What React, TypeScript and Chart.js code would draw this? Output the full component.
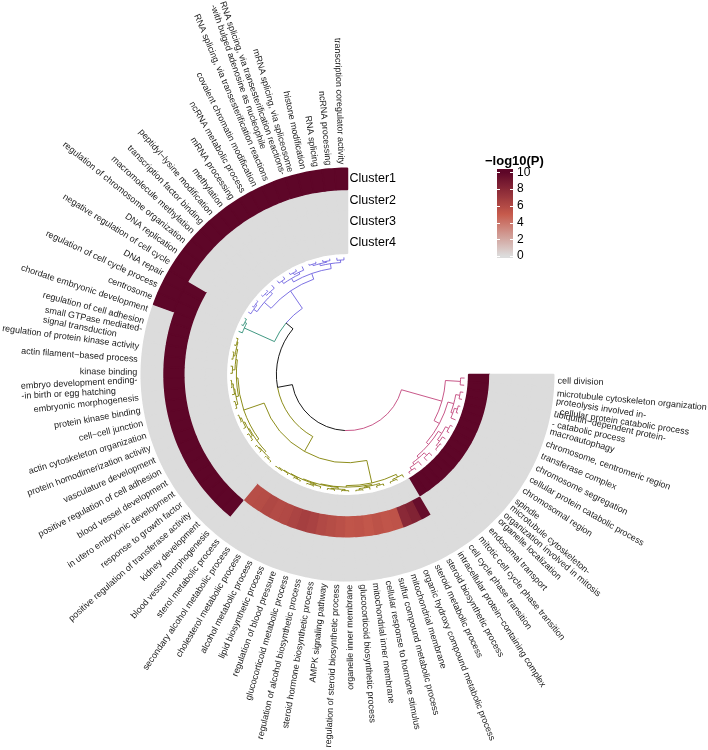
import React, { useEffect, useRef } from "react";
import { Chart, registerables } from "chart.js";

Chart.register(...registerables);

// ---------- data ----------
const terms: string[] = [
  "cell division",
  "microtubule cytoskeleton organization",
  "proteolysis involved in-\n- cellular protein catabolic process",
  "ubiquitin\u2212dependent protein-\n- catabolic process",
  "macroautophagy",
  "chromosome, centromeric region",
  "transferase complex",
  "chromosome segregation",
  "cellular protein catabolic process",
  "chromosomal region",
  "spindle",
  "microtubule cytoskeleton-\norganization involved in mitosis",
  "organelle localization",
  "endosomal transport",
  "mitotic cell cycle phase transition",
  "cell cycle phase transition",
  "intracellular protein\u2212containing complex",
  "steroid biosynthetic process",
  "steroid metabolic process",
  "organic hydroxy compound metabolic process",
  "mitochondrial membrane",
  "sulfur compound metabolic process",
  "cellular response to hormone stimulus",
  "mitochondrial inner membrane",
  "glucocorticoid biosynthetic process",
  "organelle inner membrane",
  "regulation of steroid biosynthetic process",
  "AMPK signaling pathway",
  "steroid hormone biosynthetic process",
  "regulation of alcohol biosynthetic process",
  "glucocorticoid metabolic process",
  "regulation of blood pressure",
  "lipid biosynthetic process",
  "alcohol metabolic process",
  "cholesterol metabolic process",
  "secondary alcohol metabolic process",
  "sterol metabolic process",
  "blood vessel morphogenesis",
  "kidney development",
  "positive regulation of transferase activity",
  "response to growth factor",
  "in utero embryonic development",
  "blood vessel development",
  "positive regulation of cell adhesion",
  "vasculature development",
  "protein homodimerization activity",
  "actin cytoskeleton organization",
  "cell\u2212cell junction",
  "protein kinase binding",
  "embryonic morphogenesis",
  "embryo development ending-\n-in birth or egg hatching",
  "kinase binding",
  "actin filament\u2212based process",
  "regulation of protein kinase activity",
  "small GTPase mediated-\nsignal transduction",
  "regulation of cell adhesion",
  "chordate embryonic development",
  "centrosome",
  "regulation of cell cycle process",
  "DNA repair",
  "negative regulation of cell cycle",
  "DNA replication",
  "regulation of chromosome organization",
  "macromolecule methylation",
  "transcription factor binding",
  "peptidyl\u2212lysine modification",
  "methylation",
  "mRNA processing",
  "ncRNA metabolic process",
  "covalent chromatin modification",
  "RNA splicing, via transesterification reactions",
  "RNA splicing, via transesterification reactions-\n-with bulged adenosine as nucleophile",
  "mRNA splicing, via spliceosome",
  "histone modification",
  "RNA splicing",
  "ncRNA processing",
  "transcription coregulator activity",
];

const clusterNames = ["Cluster1", "Cluster2", "Cluster3", "Cluster4"];

const cluster1Values = [
  0, 0, 0, 0, 0, 0, 0, 0, 0, 0,
  0, 0, 0, 0, 0, 0, 0, 0, 0, 0,
  0, 0, 0, 0, 0, 0, 0, 0, 0, 0,
  0, 0, 0, 0, 0, 0, 0, 0, 0, 0,
  0, 0, 0, 0, 0, 0, 0, 0, 0, 0,
  0, 0, 0, 0, 0, 0, 0, 10, 10, 10,
  10, 10, 10, 10, 10, 10, 10, 10, 10, 10,
  10, 10, 10, 10, 10, 10, 10,
];
const cluster2Values = [
  0, 0, 0, 0, 0, 0, 0, 0, 0, 0,
  0, 0, 0, 0, 0, 0, 0, 0, 0, 0,
  0, 0, 0, 0, 0, 0, 0, 0, 0, 0,
  0, 0, 0, 0, 0, 0, 0, 10, 10, 10,
  10, 10, 10, 10, 10, 10, 10, 10, 10, 10,
  10, 10, 10, 10, 10, 10, 10, 10, 10, 10,
  0, 0, 0, 0, 0, 0, 0, 0, 0, 0,
  0, 0, 0, 0, 0, 0, 0,
];
const cluster3Values = [
  0, 0, 0, 0, 0, 0, 0, 0, 0, 0,
  0, 0, 0, 0, 0, 0, 0, 9.6, 8.3, 7.9,
  5.4, 5.3, 5.5, 5.2, 5.4, 5.3, 5.6, 5.8, 6.0, 6.4,
  6.6, 6.3, 6.0, 5.9, 6.1, 5.8, 5.7, 0, 0, 0,
  0, 0, 0, 0, 0, 0, 0, 0, 0, 0,
  0, 0, 0, 0, 0, 0, 0, 0, 0, 0,
  0, 0, 0, 0, 0, 0, 0, 0, 0, 0,
  0, 0, 0, 0, 0, 0, 0,
];
const cluster4Values = [
  10, 10, 10, 10, 10, 10, 10, 10, 10, 10,
  10, 10, 10, 10, 10, 10, 10, 0, 0, 0,
  0, 0, 0, 0, 0, 0, 0, 0, 0, 0,
  0, 0, 0, 0, 0, 0, 0, 0, 0, 0,
  0, 0, 0, 0, 0, 0, 0, 0, 0, 0,
  0, 0, 0, 0, 0, 0, 0, 0, 0, 0,
  0, 0, 0, 0, 0, 0, 0, 0, 0, 0,
  0, 0, 0, 0, 0, 0, 0,
];

const legendTitle = "\u2212log10(P)";
const legendTicks = [0, 2, 4, 6, 8, 10];

// dendrogram: [height, left, right], leaves are 1-based term indices
const pinkTree: any = [19, [4, 1, 2], [13, [7, [3, 3, 4], [5, [2, 5, 6], 7]], [10, [6, [2.5, 8, 9], [3.5, 10, [1.5, 11, 12]]], [7.5, [4, 13, 14], [5, 15, [2, 16, 17]]]]]];
const oliveLeft: any = [6, [3, 18, [1.5, 19, 20]], [4.5, [3.5, [2, 21, 22], [2.5, 23, [1, 24, 25]]], [3.8, [2.2, [1, 26, 27], [1.5, 28, 29]], [3, [2, 30, [1, 31, 32]], [2.4, [1.2, 33, 34], [1.8, 35, [0.8, 36, 37]]]]]]];
const oliveRight: any = [7.5, [5, [3, [1.5, 38, 39], [2, 40, 41]], [4, [2, 42, 43], [2.5, 44, [1, 45, 46]]]], [6, [3.5, [1.5, 47, 48], [2.5, 49, [1, 50, 51]]], [4.5, [2, 52, 53], [3, [1.5, 54, 55], [2, 56, 57]]]]];
const oliveTree: any = [29, oliveLeft, oliveRight];
const tealTree: any = [4, 58, [2, 59, 60]];
const purpleTree: any = [16, [7, [3, 61, [1.5, 62, 63]], [4, [2, 64, 65], 66]], [10, [6, [3, 67, 68], [4, [2, 69, 70], 71]], [5, [3, [1.5, 72, 73], [2, 74, 75]], [2.5, 76, 77]]]];
const rootTree: any = [61, pinkTree, [46, oliveTree, [37, tealTree, purpleTree]]];

// ---------- styling ----------
const FONT = '"Liberation Sans", Arial, Helvetica, sans-serif';
const colorStops: [number, number[]][] = [
  [0, [220, 220, 220]],
  [5, [198, 90, 76]],
  [10, [94, 6, 40]],
];

function heatRGB(v: number): number[] {
  const c = Math.max(0, Math.min(10, v));
  for (let i = 1; i < colorStops.length; i++) {
    const [v0, c0] = colorStops[i - 1];
    const [v1, c1] = colorStops[i];
    if (c <= v1) {
      const t = (c - v0) / (v1 - v0);
      return c0.map((x, k) => Math.round(x + (c1[k] - x) * t));
    }
  }
  return colorStops[colorStops.length - 1][1];
}
const heatColor = (v: number) => `rgb(${heatRGB(v).join(",")})`;

const dendColors = new Map<any, string>([
  [pinkTree, "#C2457C"],
  [oliveTree, "#808000"],
  [tealTree, "#2B8C74"],
  [purpleTree, "#6E62E0"],
]);

const circosPlugin = {
  id: "circosExtras",
  afterDatasetsDraw(chart: any) {
    const ctx: CanvasRenderingContext2D = chart.ctx;
    const m0 = chart.getDatasetMeta(0);
    const m3 = chart.getDatasetMeta(3);
    const first: any = m0.data[0];
    const cx = first.x;
    const cy = first.y;
    const outerR = first.outerRadius;
    const innerR = (m3.data[0] as any).innerRadius;
    const mids: number[] = m3.data.map((a: any) => (a.startAngle + a.endAngle) / 2);

    // term labels
    ctx.save();
    ctx.font = `9px ${FONT}`;
    ctx.fillStyle = "#1a1a1a";
    ctx.textBaseline = "middle";
    ctx.textAlign = "left";
    const labelR = outerR + 4;
    const lh = 10;
    terms.forEach((t, i) => {
      const a = mids[i];
      const deg = (a * 180) / Math.PI + 90;
      const flip = deg > 176;
      const lines = t.split("\n");
      const w = Math.max(...lines.map((l) => ctx.measureText(l).width));
      ctx.save();
      ctx.translate(cx + labelR * Math.cos(a), cy + labelR * Math.sin(a));
      ctx.rotate(flip ? a + Math.PI : a);
      lines.forEach((ln, j) => {
        ctx.fillText(ln, flip ? -w : 0, (j - (lines.length - 1) / 2) * lh);
      });
      ctx.restore();
    });
    ctx.restore();

    // dendrogram
    ctx.save();
    ctx.lineWidth = 0.9;
    const leafR = innerR - 4;
    const rootR = innerR * 0.463;
    const maxH = rootTree[0];
    const rOf = (h: number) => leafR - (h / maxH) * (leafR - rootR);
    const walk = (node: any, inherited: string | null): { a: number; r: number; color: string | null } => {
      if (typeof node === "number") return { a: mids[node - 1], r: leafR, color: inherited };
      const color = dendColors.get(node) || inherited;
      const kids = [walk(node[1], color), walk(node[2], color)];
      const r = rOf(node[0]);
      const a = (kids[0].a + kids[1].a) / 2;
      kids.forEach((k) => {
        ctx.strokeStyle = k.color || "#000000";
        ctx.beginPath();
        ctx.arc(cx, cy, r, Math.min(a, k.a), Math.max(a, k.a));
        ctx.stroke();
        ctx.beginPath();
        ctx.moveTo(cx + r * Math.cos(k.a), cy + r * Math.sin(k.a));
        ctx.lineTo(cx + k.r * Math.cos(k.a), cy + k.r * Math.sin(k.a));
        ctx.stroke();
      });
      return { a, r, color };
    };
    walk(rootTree, null);
    ctx.restore();

    // cluster (track) names
    ctx.save();
    ctx.font = `12.5px ${FONT}`;
    ctx.fillStyle = "#000";
    ctx.textAlign = "left";
    ctx.textBaseline = "middle";
    const ringW = (outerR - innerR) / 4;
    clusterNames.forEach((n, k) => {
      ctx.fillText(n, cx + 2, cy - (outerR - ringW * (k + 0.5)));
    });
    ctx.restore();

    // color legend
    ctx.save();
    const barX = 497, barY = 169, barW = 16, barH = 89;
    const yOf = (v: number) => 256 - v * 8.37;
    ctx.font = `bold 13px ${FONT}`;
    ctx.fillStyle = "#000";
    ctx.textAlign = "left";
    ctx.textBaseline = "middle";
    ctx.fillText(legendTitle, 485, 161);
    const grad = ctx.createLinearGradient(0, barY, 0, barY + barH);
    grad.addColorStop(0, heatColor(10));
    for (let s = 0; s <= 40; s++) {
      const v = (10 * s) / 40;
      const pos = Math.max(0, Math.min(1, (yOf(v) - barY) / barH));
      grad.addColorStop(pos, heatColor(v));
    }
    grad.addColorStop(1, heatColor(0));
    ctx.fillStyle = grad;
    ctx.fillRect(barX, barY, barW, barH);
    ctx.strokeStyle = "#ffffff";
    ctx.lineWidth = 1;
    ctx.font = `12px ${FONT}`;
    ctx.fillStyle = "#000";
    legendTicks.forEach((v) => {
      const y = Math.round(yOf(v)) + 0.5;
      ctx.beginPath();
      ctx.moveTo(barX, y);
      ctx.lineTo(barX + 3, y);
      ctx.moveTo(barX + barW - 3, y);
      ctx.lineTo(barX + barW, y);
      ctx.stroke();
      ctx.fillText(String(v), barX + barW + 4, yOf(v));
    });
    ctx.restore();
  },
};

export default function App() {
  const ref = useRef<HTMLCanvasElement>(null);
  useEffect(() => {
    const allValues = [cluster1Values, cluster2Values, cluster3Values, cluster4Values];
    const chart = new Chart(ref.current as HTMLCanvasElement, {
      type: "doughnut",
      data: {
        labels: terms,
        datasets: allValues.map((vals, k) => ({
          label: clusterNames[k],
          data: vals.map(() => 1),
          backgroundColor: vals.map(heatColor),
          borderColor: vals.map(heatColor),
          borderWidth: 1.5,
        })),
      },
      options: {
        responsive: false,
        animation: false,
        events: [],
        rotation: 90,
        circumference: 270,
        cutout: "58.74%",
        layout: { padding: { left: 140.5, right: 153.5, top: 167.5, bottom: 168.5 } },
        plugins: { legend: { display: false }, tooltip: { enabled: false } },
      } as any,
      plugins: [circosPlugin],
    });
    return () => chart.destroy();
  }, []);
  return (
    <div style={{ position: "absolute", left: 0, top: 0, width: 708, height: 750, background: "#ffffff" }}>
      <canvas ref={ref} width={708} height={750} style={{ display: "block" }} />
    </div>
  );
}
